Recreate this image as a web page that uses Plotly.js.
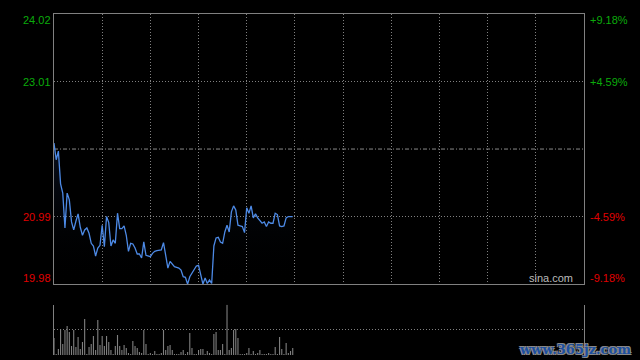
<!DOCTYPE html>
<html>
<head>
<meta charset="utf-8">
<script src="https://cdn.plot.ly/plotly-3.0.1.min.js"></script>
<style>html,body{margin:0;padding:0;background:#000;}#chart{width:640px;height:360px;}</style>
</head>
<body>
<div id="chart"></div>
<script>
// Intraday prices (one per minute, morning session so far)
var prices = [22.09,21.84,21.97,21.48,21.34,20.82,21.34,21.24,20.91,20.79,
  20.92,21.03,20.83,20.71,20.79,20.82,20.74,20.59,20.55,20.40,
  20.52,20.56,20.86,20.54,20.99,20.90,20.55,20.64,20.59,21.04,
  20.81,20.81,20.85,20.71,20.47,20.59,20.58,20.52,20.43,20.43,
  20.37,20.61,20.41,20.40,20.39,20.44,20.47,20.48,20.48,20.49,
  20.60,20.38,20.22,20.32,20.28,20.24,20.23,20.22,20.19,20.09,
  20.08,19.98,20.09,20.15,20.21,20.25,20.26,20.13,19.98,20.07,
  19.99,20.04,19.99,20.55,20.67,20.68,20.61,20.59,20.76,20.86,
  20.76,21.06,21.15,21.09,20.86,20.85,20.84,20.75,21.12,21.04,
  21.15,20.97,21.03,20.97,20.92,20.89,20.91,20.84,20.91,20.89,
  20.89,21.04,21.02,20.85,20.84,20.85,20.97,20.99,20.99,20.99];
// Volume per minute (relative units)
var volumes = [17,1,6,26,11,25,29,23,9,25,
  8,18,6,13,36,1,8,11,19,5,
  35,10,19,9,19,13,5,1,9,20,
  9,5,10,7,2,1,14,9,7,3,
  2,25,11,1,2,1,4,1,1,2,
  25,5,9,10,5,1,1,1,3,5,
  1,3,22,7,1,1,5,6,6,1,
  4,2,1,21,23,5,5,11,1,50,
  5,7,25,26,17,1,1,1,2,7,
  1,4,1,2,5,1,1,1,2,1,
  1,8,1,18,6,1,12,2,4,7];
var prevClose = 22.00;
var priceTicks = [24.02, 23.01, 20.99, 19.98];
var priceTickText = ['24.02', '23.01', '20.99', '19.98'];
var pctTickText = ['+9.18%', '+4.59%', '-4.59%', '-9.18%'];
var totalMinutes = 242;

var minutes = prices.map(function(_, i){ return i; });

var traces = [
  {
    x: minutes, y: prices, type: 'scatter', mode: 'lines',
    line: {color: '#4d8ae6', width: 1.3},
    fill: 'tozeroy',
    fillgradient: {type: 'vertical', start: 19.98, stop: 22.1,
      colorscale: [[0, 'rgba(0,0,0,0)'], [1, 'rgba(30,55,110,0.28)']]},
    xaxis: 'x', yaxis: 'y', hoverinfo: 'skip'
  },
  {
    x: minutes, y: volumes, type: 'bar',
    marker: {color: '#808080', line: {width: 0}},
    width: 0.5,
    xaxis: 'x2', yaxis: 'y2', hoverinfo: 'skip'
  }
];

var annotations = [];
var shifts = [-6, 0, 0, 6];
var colors = ['#0bab0b', '#0bab0b', '#e00000', '#e00000'];
for (var k = 0; k < priceTicks.length; k++) {
  annotations.push({xref: 'paper', yref: 'y', x: 0, y: priceTicks[k], text: priceTickText[k],
    showarrow: false, xanchor: 'right', yanchor: 'middle', xshift: -1, yshift: shifts[k],
    font: {family: 'Liberation Sans, Arial, sans-serif', size: 11, color: colors[k]}});
  annotations.push({xref: 'paper', yref: 'y', x: 1, y: priceTicks[k], text: pctTickText[k],
    showarrow: false, xanchor: 'left', yanchor: 'middle', xshift: 4, yshift: shifts[k],
    font: {family: 'Liberation Sans, Arial, sans-serif', size: 11, color: colors[k]}});
}
annotations.push({xref: 'paper', yref: 'y', x: 1, y: 19.98, text: 'sina.com', showarrow: false,
  xanchor: 'right', yanchor: 'middle', xshift: -9, yshift: 6,
  font: {family: 'Liberation Sans, Arial, sans-serif', size: 11, color: '#bbbbbb'}});
annotations.push({xref: 'paper', yref: 'paper', x: 1, y: 0, text: '<b>www.365jz.com</b>', showarrow: false,
  xanchor: 'center', yanchor: 'middle', xshift: -9, yshift: 6,
  font: {family: 'DejaVu Serif, serif', size: 13, color: '#1c4fa0',
    shadow: '1px 1px 0 #8a8a8a, -1px -1px 0 #8a8a8a, 1px -1px 0 #8a8a8a, -1px 1px 0 #8a8a8a'}});

var layout = {
  width: 640, height: 360,
  margin: {l: 54, r: 56, t: 14, b: 5, pad: 0},
  paper_bgcolor: '#000', plot_bgcolor: '#000',
  showlegend: false,
  xaxis: {domain: [0, 1], range: [0, totalMinutes], anchor: 'y',
    showgrid: true, gridcolor: '#808080', griddash: '1px,2px', gridwidth: 1,
    tick0: 0, dtick: 22, showticklabels: false, ticks: '', zeroline: false,
    showline: true, mirror: true, linecolor: '#808080', linewidth: 1, fixedrange: true},
  yaxis: {domain: [0.208, 1], range: [19.98, 24.02], anchor: 'x',
    tickmode: 'array', tickvals: [20.99, 23.01],
    showgrid: true, gridcolor: '#808080', griddash: '1px,2px', gridwidth: 1,
    showticklabels: false, ticks: '', zeroline: false,
    showline: true, mirror: true, linecolor: '#808080', linewidth: 1, fixedrange: true},
  xaxis2: {domain: [0, 1], range: [0, totalMinutes], anchor: 'y2',
    showgrid: false, showticklabels: false, ticks: '', zeroline: false, showline: false, fixedrange: true},
  yaxis2: {domain: [0, 0.147], range: [0, 50], anchor: 'x2',
    tickmode: 'array', tickvals: [0, 25, 50],
    showgrid: true, gridcolor: '#808080', griddash: '1px,2px', gridwidth: 1,
    showticklabels: false, ticks: '', zeroline: false,
    showline: true, mirror: true, linecolor: '#808080', linewidth: 1, fixedrange: true},
  shapes: [
    {type: 'line', xref: 'x domain', yref: 'y', x0: 0, x1: 1, y0: prevClose, y1: prevClose,
      line: {color: '#8a8a8a', width: 1, dash: '4px,2px,1px,2px'}, layer: 'below'}
  ],
  annotations: annotations
};

Plotly.newPlot('chart', traces, layout, {displayModeBar: false, staticPlot: true});
</script>
</body>
</html>
